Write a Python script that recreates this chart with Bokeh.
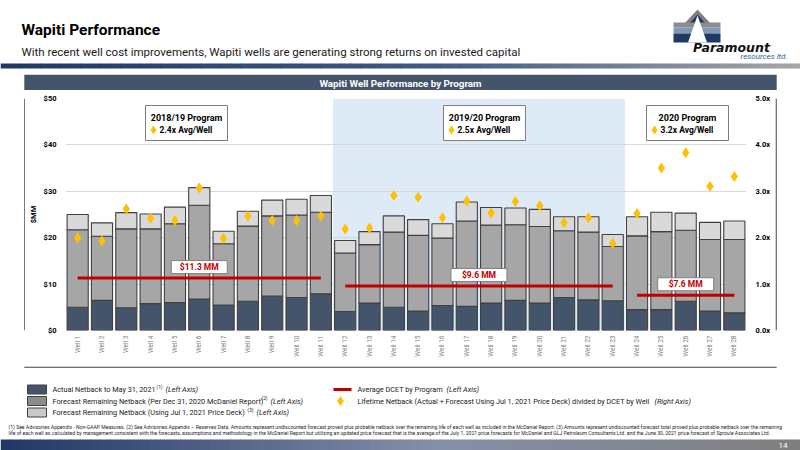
import math
from bokeh.plotting import figure
from bokeh.models import (Range1d, FactorRange, LinearAxis, FixedTicker,
                          PrintfTickFormatter, ColumnDataSource)
from bokeh.layouts import column, row
from bokeh.embed import file_html
from bokeh.resources import INLINE
from bokeh.core.properties import value

FONT = "Roboto"

# ---------------- data ----------------
wells = ["Well 1", "Well 2", "Well 3", "Well 4", "Well 5", "Well 6", "Well 7",
         "Well 8", "Well 9", "Well 10", "Well 11", "Well 12", "Well 13", "Well 14",
         "Well 15", "Well 16", "Well 17", "Well 18", "Well 19", "Well 20", "Well 21",
         "Well 22", "Well 23", "Well 24", "Well 25", "Well 26", "Well 27", "Well 28"]
actual_netback = [5.0, 6.5, 4.9, 5.8, 6.0, 6.8, 5.5, 6.3, 7.4, 7.1, 7.9, 4.1, 5.9, 5.0,
                  4.2, 5.4, 5.2, 5.9, 6.5, 5.9, 7.1, 6.6, 6.4, 4.5, 4.5, 6.3, 4.2, 3.8]
forecast_dec2020 = [16.7, 13.8, 17.0, 16.1, 17.0, 20.2, 13.2, 16.2, 17.3, 17.8, 17.6, 12.6,
                    12.6, 16.2, 16.3, 14.5, 18.4, 16.8, 16.3, 16.5, 14.4, 14.6, 11.7, 15.9,
                    16.8, 15.3, 15.4, 15.8]
forecast_jul2021 = [3.3, 2.9, 3.5, 3.2, 3.6, 3.8, 2.7, 3.2, 3.4, 3.4, 3.6, 2.7, 2.8, 3.5,
                    3.4, 3.1, 4.1, 3.8, 3.6, 3.7, 3.0, 3.3, 2.6, 4.1, 4.2, 3.7, 3.7, 4.0]
lifetime_multiple = [2.00, 1.93, 2.62, 2.42, 2.37, 3.07, 1.99, 2.47, 2.37, 2.37, 2.47, 2.19,
                     2.21, 2.91, 2.87, 2.43, 2.79, 2.53, 2.78, 2.69, 2.32, 2.43, 1.88, 2.52,
                     3.50, 3.83, 3.11, 3.32]

program_names = ["2018/19 Program", "2019/20 Program", "2020 Program"]
program_first = ["Well 1", "Well 12", "Well 24"]
program_last = ["Well 11", "Well 23", "Well 28"]
program_avg_dcet = [11.3, 9.6, 7.6]
program_avg_multiple = ["2.4x", "2.5x", "3.2x"]
shaded_program = 1

y_ticks = [0, 10, 20, 30, 40, 50]
y2_ticks = [0, 1, 2, 3, 4, 5]

# ---------------- colours ----------------
C_DARK = "#44546a"
C_MID = "#a6a6a6"
C_LIGHT = "#d9d9d9"
C_RED = "#c00000"
C_GOLD = "#ffc000"
C_SHADE = "#deeaf6"
C_EDGE = "#404040"


def page_fig(x0, x1, y0, y1):
    f = figure(width=x1 - x0, height=y1 - y0, x_range=Range1d(x0, x1),
               y_range=Range1d(y1, y0), output_backend="svg", toolbar_location=None,
               x_axis_location=None, y_axis_location=None, min_border=0,
               outline_line_color=None)
    f.grid.visible = False
    f.background_fill_color = "white"
    f.border_fill_color = "white"
    return f


def txt(f, x, y, s, size, color="#000000", style="normal", align="left",
        baseline="middle", font=FONT, **kw):
    f.text(x=[x], y=[y], text=[s], text_font=value(font), text_font_size=value(size),
           text_font_style=style, text_color=color, text_align=align,
           text_baseline=baseline, **kw)


def hex2rgb(h):
    return tuple(int(h[i:i + 2], 16) for i in (1, 3, 5))


def gradient(stops, n):
    cols = []
    for k in range(n):
        t = k / (n - 1)
        for (t0, c0), (t1, c1) in zip(stops, stops[1:]):
            if t0 <= t <= t1:
                u = (t - t0) / (t1 - t0)
                a, b = hex2rgb(c0), hex2rgb(c1)
                cols.append("#%02x%02x%02x" % tuple(round(a[i] + (b[i] - a[i]) * u) for i in range(3)))
                break
    return cols


def gradient_bar(f, x0, x1, y0, y1, stops, n=80):
    cols = gradient(stops, n)
    w = (x1 - x0) / n
    f.quad(left=[x0 + k * w for k in range(n)], right=[x0 + (k + 1) * w + 0.6 for k in range(n)],
           top=[y0] * n, bottom=[y1] * n, fill_color=cols, line_color=None)


# ---------------- header ----------------
hdr = page_fig(0, 800, 0, 74)
txt(hdr, 21, 29.5, "Wapiti Performance", "15.5px", style="bold")
txt(hdr, 21, 51, "With recent well cost improvements, Wapiti wells are generating strong returns on invested capital",
    "11.5px", color="#1a1a1a")
gradient_bar(hdr, 0, 800, 63, 68, [(0, "#1f3864"), (0.55, "#3d5a8a"), (1, "#a5a5a5")])
# logo
hdr.patch(x=[684, 697, 710], y=[23, 9, 23], fill_color="#7f7f7f", line_color=None)
hdr.patch(x=[689, 697, 705], y=[23, 14, 23], fill_color="#1f3864", line_color=None)
hdr.quad(left=[673, 673, 673], right=[720, 720, 720], top=[22, 27, 33], bottom=[27, 33, 42],
         fill_color=["#8c8c8c", "#8497b8", "#1f3864"], line_color=None)
hdr.patch(x=[697, 687.5, 706.5], y=[15, 42, 42], fill_color="white", line_color=None)
txt(hdr, 731, 46.5, "Paramount", "12.5px", color="#111111", style="bold italic", align="center",
    font="DejaVu Sans")
txt(hdr, 787, 55.5, "resources ltd.", "8px", color="#2e5fa3", style="italic", align="right")

# ---------------- panel header bar ----------------
bar = page_fig(0, 800, 74, 90)
bar.quad(left=[23.8], right=[776.2], top=[74], bottom=[90], fill_color=C_DARK, line_color=None)
txt(bar, 400, 82.5, "Wapiti Well Performance by Program", "9.8px", color="white", style="bold",
    align="center")

# ---------------- chart ----------------
FRAME_L, FRAME_R, FRAME_T, FRAME_B = 65, 746, 98, 330
PX_W = (FRAME_R - FRAME_L) / len(wells)
PX_Y = (FRAME_B - FRAME_T) / (y_ticks[-1] - y_ticks[0])


def px_x(px):
    return (px - FRAME_L) / PX_W


def px_y(py):
    return (FRAME_B - py) / PX_Y


chart = figure(width=750, height=276, x_range=FactorRange(factors=wells, range_padding=0),
               y_range=Range1d(y_ticks[0], y_ticks[-1]), output_backend="svg",
               toolbar_location=None, min_border_left=40, min_border_right=29,
               min_border_top=8, min_border_bottom=36, outline_line_color=None)
chart.extra_y_ranges = {"mult": Range1d(y2_ticks[0], y2_ticks[-1])}
chart.background_fill_color = "white"
chart.border_fill_color = "white"

# shaded program
s_left = wells.index(program_first[shaded_program])
s_right = wells.index(program_last[shaded_program]) + 1
chart.quad(left=[s_left], right=[s_right], bottom=[y_ticks[0]], top=[y_ticks[-1]],
           fill_color=C_SHADE, line_color=None, level="image")

chart.xgrid.visible = False
chart.ygrid.ticker = FixedTicker(ticks=y_ticks)
chart.ygrid.grid_line_color = "#d9d9d9"
chart.ygrid.grid_line_width = 1

src = ColumnDataSource(dict(well=wells, actual=actual_netback, fc_dec=forecast_dec2020,
                            fc_jul=forecast_jul2021, mult=lifetime_multiple))
chart.vbar_stack(["actual", "fc_dec", "fc_jul"], x="well", width=0.87, source=src,
                 fill_color=[C_DARK, C_MID, C_LIGHT], line_color=C_EDGE, line_width=1.1)

# average DCET lines
chart.segment(x0=program_first, y0=program_avg_dcet, x1=program_last, y1=program_avg_dcet,
              line_color=C_RED, line_width=3)
mids = [(wells.index(f) + wells.index(l) + 1) / 2 for f, l in zip(program_first, program_last)]
lab_y = [v + 11 / PX_Y for v in program_avg_dcet]
chart.rect(x=mids, y=lab_y, width=56, height=13, width_units="screen", height_units="screen",
           fill_color="white", line_color="#7f7f7f", line_width=1)
chart.text(x=mids, y=lab_y, text=["$%.1f MM" % v for v in program_avg_dcet],
           text_font=value(FONT), text_font_size=value("8.5px"), text_font_style="bold",
           text_color=C_RED, text_align="center", text_baseline="middle")

# lifetime multiple diamonds
chart.scatter(x="well", y="mult", source=src, marker="diamond", size=11,
              fill_color=C_GOLD, line_color=None, y_range_name="mult")

# program boxes
box_cx_px = [186, 484, 687]
box_cx = [px_x(v) for v in box_cx_px]
chart.rect(x=box_cx, y=[px_y(122.5)] * 3, width=82, height=35, width_units="screen",
           height_units="screen", fill_color="white", line_color="#7f7f7f", line_width=1)
chart.text(x=box_cx, y=[px_y(117)] * 3, text=program_names, text_font=value(FONT),
           text_font_size=value("9px"), text_font_style="bold", text_color="#000000",
           text_align="center", text_baseline="middle")
chart.scatter(x=[px_x(v - 33) for v in box_cx_px], y=[px_y(129.5)] * 3, marker="diamond",
              size=9, fill_color=C_GOLD, line_color=None)
chart.text(x=[px_x(v - 27) for v in box_cx_px], y=[px_y(129.5)] * 3,
           text=["%s Avg/Well" % m for m in program_avg_multiple], text_font=value(FONT),
           text_font_size=value("8.5px"), text_font_style="bold", text_color="#000000",
           text_align="left", text_baseline="middle")

# axes
yl = chart.yaxis[0]
yl.ticker = FixedTicker(ticks=y_ticks)
yl.formatter = PrintfTickFormatter(format="$%d")
yl.axis_label = "$MM"
yl.axis_label_standoff = 3
yl.major_label_standoff = 9
yr = LinearAxis(y_range_name="mult", ticker=FixedTicker(ticks=y2_ticks),
                formatter=PrintfTickFormatter(format="%.1fx"))
yr.major_label_standoff = 9
chart.add_layout(yr, "right")
for ax in (yl, yr):
    ax.axis_line_color = None
    ax.major_tick_line_color = None
    ax.minor_tick_line_color = None
    ax.major_tick_out = 0
    ax.major_tick_in = 0
    ax.minor_tick_out = 0
    ax.major_label_text_font = FONT
    ax.major_label_text_font_style = "bold"
    ax.major_label_text_font_size = "7.5px"
    ax.major_label_text_color = "#000000"
    ax.axis_label_text_font = FONT
    ax.axis_label_text_font_style = "bold"
    ax.axis_label_text_font_size = "7.5px"
    ax.axis_label_text_color = "#000000"
xa = chart.xaxis[0]
xa.axis_line_color = None
xa.major_tick_line_color = None
xa.minor_tick_line_color = None
xa.major_tick_out = 0
xa.major_tick_in = 0
xa.major_label_orientation = math.pi / 2
xa.major_label_standoff = 5
xa.major_label_text_font = FONT
xa.major_label_text_font_size = "6.5px"
xa.major_label_text_color = "#808080"

# side borders of the panel
lstrip = page_fig(0, 25, 90, 366)
lstrip.segment(x0=[24.4], y0=[90], x1=[24.4], y1=[366], line_color=C_EDGE, line_width=1.2)
rstrip = page_fig(775, 800, 90, 366)
rstrip.segment(x0=[775.6], y0=[90], x1=[775.6], y1=[366], line_color=C_EDGE, line_width=1.2)

# ---------------- legend, footnotes, footer ----------------
bot = page_fig(0, 800, 366, 450)
bot.segment(x0=[23.8], y0=[366.6], x1=[776.2], y1=[366.6], line_color=C_EDGE, line_width=1.2)

rows_y = [389, 400.5, 412]
bot.quad(left=[27] * 3, right=[46] * 3, top=[y - 4.5 for y in rows_y],
         bottom=[y + 4.5 for y in rows_y], fill_color=[C_DARK, "#8c8c8c", "#c9c9c9"],
         line_color=C_EDGE, line_width=1)
legend_main = ["Actual Netback to May 31, 2021",
               "Forecast Remaining Netback (Per Dec 31, 2020 McDaniel Report)",
               "Forecast Remaining Netback (Using Jul 1, 2021 Price Deck)"]
legend_sup_x = [156, 261, 247]
legend_axis_x = [165, 270, 256]
LEG = "7.3px"
for i, (s, sx, ax_) in enumerate(zip(legend_main, legend_sup_x, legend_axis_x)):
    txt(bot, 52, rows_y[i], s, LEG, color="#1a1a1a")
    txt(bot, sx, rows_y[i] - 2.5, "(%d)" % (i + 1), "4.8px", color="#1a1a1a")
    txt(bot, ax_, rows_y[i], "(Left Axis)", LEG, color="#1a1a1a", style="italic")

bot.segment(x0=[333], y0=[rows_y[0]], x1=[351], y1=[rows_y[0]], line_color=C_RED, line_width=3)
txt(bot, 357, rows_y[0], "Average DCET by Program", LEG, color="#1a1a1a")
txt(bot, 446, rows_y[0], "(Left Axis)", LEG, color="#1a1a1a", style="italic")
bot.scatter(x=[340], y=[rows_y[1]], marker="diamond", size=10, fill_color=C_GOLD, line_color=None)
txt(bot, 357, rows_y[1],
    "Lifetime Netback (Actual + Forecast Using Jul 1, 2021 Price Deck) divided by DCET by Well",
    LEG, color="#1a1a1a")
txt(bot, 654, rows_y[1], "(Right Axis)", LEG, color="#1a1a1a", style="italic")

foot1 = ("(1) See Advisories Appendix - Non-GAAP Measures.   (2) See Advisories Appendix \u2013 Reserves Data. "
         "Amounts represent undiscounted forecast proved plus probable netback over the remaining life of each "
         "well as included in the McDaniel Report.   (3) Amounts represent undiscounted forecast total proved "
         "plus probable netback over the remaining")
foot2 = ("life of each well as calculated by management consistent with the forecasts, assumptions and "
         "methodology in the McDaniel Report but utilizing an updated price forecast that is the average of "
         "the July 1, 2021 price forecasts for McDaniel and GLJ Petroleum Consultants Ltd. and the June 30, "
         "2021 price forecast of Sproule Associates Ltd.")
txt(bot, 8, 426, foot1, "5.1px", color="#262626")
txt(bot, 8, 432.5, foot2, "5.1px", color="#262626")

gradient_bar(bot, 0, 800, 439, 450, [(0, "#1f3864"), (0.55, "#8690aa"), (1, "#7f7f7f")])
txt(bot, 787, 444.5, "14", "8px", color="white", align="right")

layout = column(hdr, bar, row(lstrip, chart, rstrip), bot)

with open("out.html", "w") as fh:
    fh.write(file_html(layout, INLINE, title="Wapiti Performance"))
